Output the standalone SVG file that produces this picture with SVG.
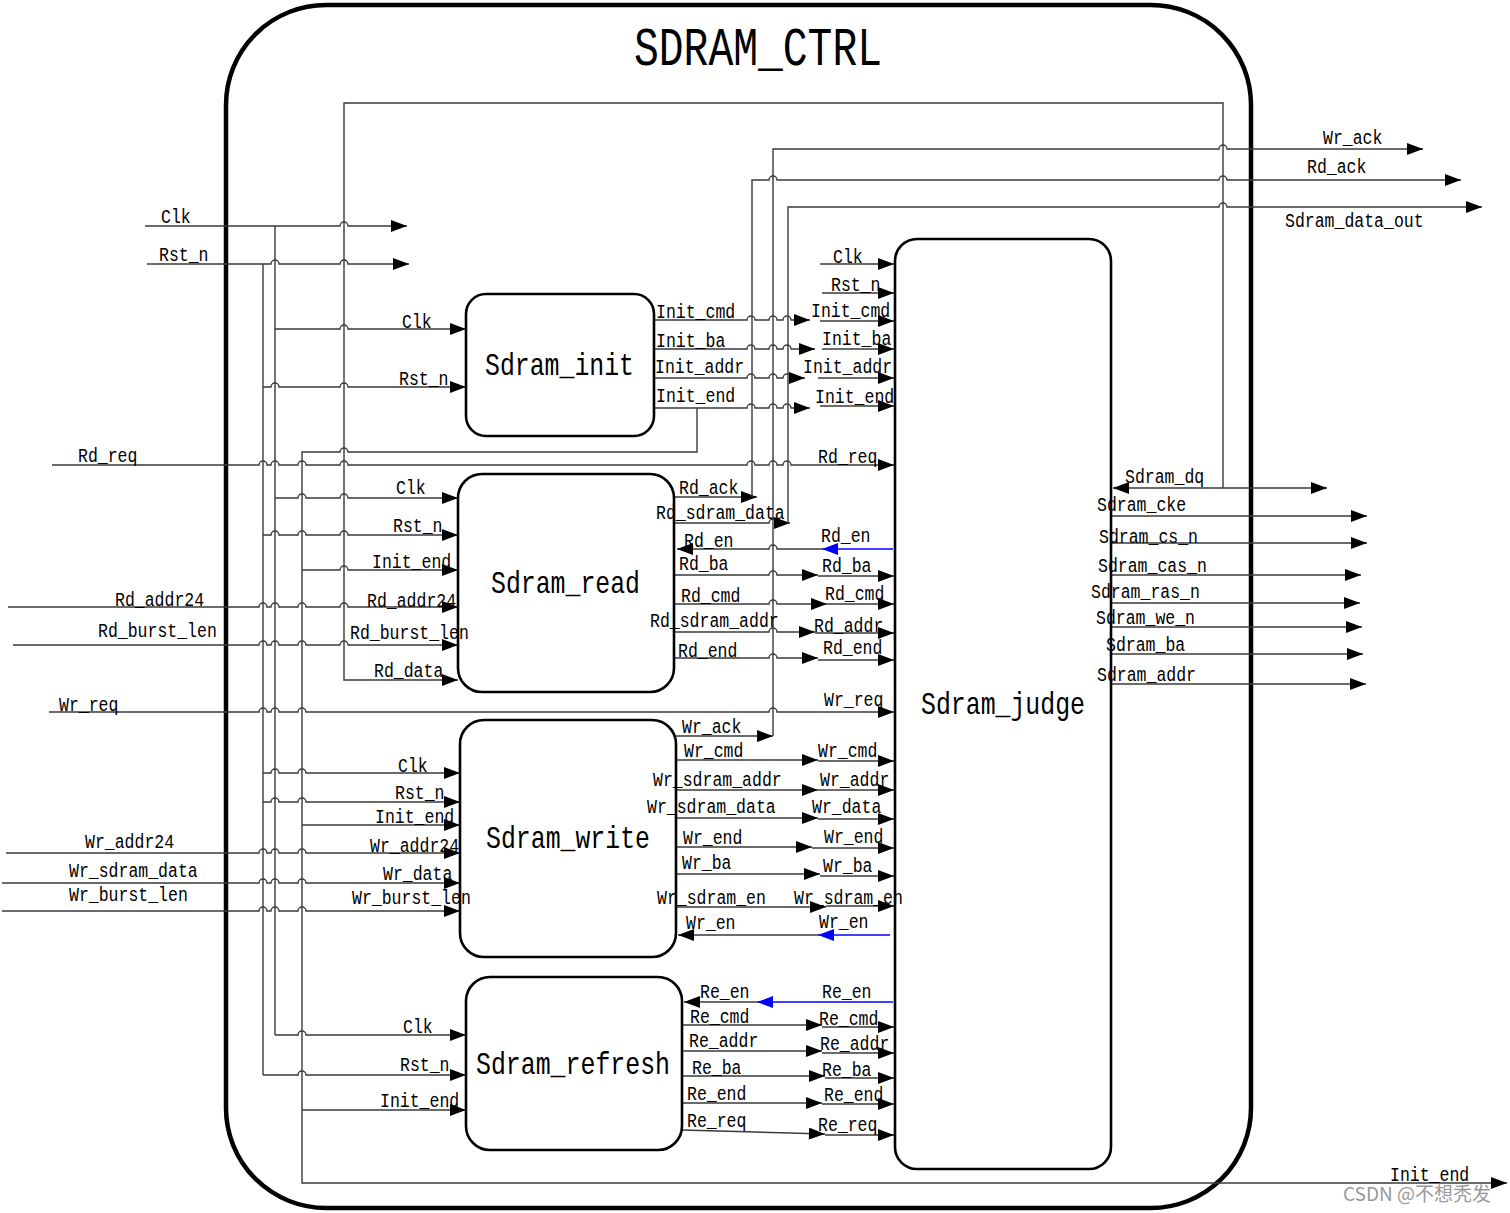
<svg xmlns="http://www.w3.org/2000/svg" width="1510" height="1213" viewBox="0 0 1510 1213">
<defs>
<marker id="ah" markerUnits="userSpaceOnUse" markerWidth="17" markerHeight="12" refX="16" refY="6" orient="auto-start-reverse" viewBox="0 0 16 12"><path d="M0,0L16,6L0,12z" fill="#000"/></marker>
<marker id="ahb" markerUnits="userSpaceOnUse" markerWidth="17" markerHeight="12" refX="16" refY="6" orient="auto" viewBox="0 0 16 12"><path d="M0,0L16,6L0,12z" fill="#0000ff"/></marker>
</defs>
<style>
.w{fill:none;stroke:#3a3a3a;stroke-width:1.4}
.a{marker-end:url(#ah)}
.b{fill:none;stroke:#0000ff;stroke-width:1.4;marker-end:url(#ahb)}
.blk{fill:#fff;stroke:#000;stroke-width:2.6}
.lb{font-family:"Liberation Mono",monospace;font-size:20px;fill:#000}
.nm{font-family:"Liberation Mono",monospace;font-size:32px;fill:#000}
.tt{font-family:"Liberation Mono",monospace;font-size:54px;fill:#000}
.wm{font-family:"Noto Sans CJK SC","Noto Sans",sans-serif;font-size:19px;fill:#999}
</style>
<rect width="1510" height="1213" fill="#fff"/>
<g id="sdram_ctrl">
<rect x="226" y="5" width="1025" height="1203" rx="100" fill="none" stroke="#000" stroke-width="4.5"/>
<text class="tt" x="634" y="65" textLength="248" lengthAdjust="spacingAndGlyphs">SDRAM_CTRL</text>
</g>
<g id="connectors">
<path class="w a" d="M145 226H340a4 4 0 0 1 8 0H407"/>
<path class="w a" d="M147 264H271a4 4 0 0 1 8 0H340a4 4 0 0 1 8 0H409"/>
<path class="w" d="M275 226V1035"/>
<path class="w" d="M263 264V1075"/>
<path class="w a" d="M275 329H340a4 4 0 0 1 8 0H466"/>
<path class="w a" d="M263 387H271a4 4 0 0 1 8 0H340a4 4 0 0 1 8 0H466"/>
<path class="w a" d="M697 408V452H348a4 4 0 0 0 -8 0H302V1183H1507"/>
<path class="w a" d="M52 465H259a4 4 0 0 1 8 0H271a4 4 0 0 1 8 0H298a4 4 0 0 1 8 0H340a4 4 0 0 1 8 0H747a4 4 0 0 1 8 0H769a4 4 0 0 1 8 0H783a4 4 0 0 1 8 0H894"/>
<path class="w a" d="M275 498H298a4 4 0 0 1 8 0H340a4 4 0 0 1 8 0H458"/>
<path class="w a" d="M263 535H271a4 4 0 0 1 8 0H298a4 4 0 0 1 8 0H340a4 4 0 0 1 8 0H458"/>
<path class="w a" d="M302 570H340a4 4 0 0 1 8 0H458"/>
<path class="w a" d="M8 607H259a4 4 0 0 1 8 0H271a4 4 0 0 1 8 0H298a4 4 0 0 1 8 0H340a4 4 0 0 1 8 0H458"/>
<path class="w a" d="M13 645H259a4 4 0 0 1 8 0H271a4 4 0 0 1 8 0H298a4 4 0 0 1 8 0H340a4 4 0 0 1 8 0H458"/>
<path class="w a" d="M1223 488V103H344V680H458"/>
<path class="w a" d="M49 712H259a4 4 0 0 1 8 0H271a4 4 0 0 1 8 0H298a4 4 0 0 1 8 0H769a4 4 0 0 1 8 0H894"/>
<path class="w a" d="M263 773H271a4 4 0 0 1 8 0H298a4 4 0 0 1 8 0H460"/>
<path class="w a" d="M263 802H271a4 4 0 0 1 8 0H298a4 4 0 0 1 8 0H460"/>
<path class="w a" d="M302 825H460"/>
<path class="w a" d="M6 853H259a4 4 0 0 1 8 0H271a4 4 0 0 1 8 0H298a4 4 0 0 1 8 0H460"/>
<path class="w a" d="M2 883H259a4 4 0 0 1 8 0H271a4 4 0 0 1 8 0H298a4 4 0 0 1 8 0H460"/>
<path class="w a" d="M2 911H259a4 4 0 0 1 8 0H271a4 4 0 0 1 8 0H298a4 4 0 0 1 8 0H460"/>
<path class="w a" d="M275 1035H298a4 4 0 0 1 8 0H466"/>
<path class="w a" d="M263 1075H298a4 4 0 0 1 8 0H466"/>
<path class="w a" d="M302 1110H466"/>
<path class="w a" d="M654 320H747a4 4 0 0 1 8 0H769a4 4 0 0 1 8 0H783a4 4 0 0 1 8 0H810"/>
<path class="w a" d="M654 349H747a4 4 0 0 1 8 0H769a4 4 0 0 1 8 0H783a4 4 0 0 1 8 0H815"/>
<path class="w a" d="M654 378H747a4 4 0 0 1 8 0H769a4 4 0 0 1 8 0H783a4 4 0 0 1 8 0H805"/>
<path class="w a" d="M654 408H747a4 4 0 0 1 8 0H769a4 4 0 0 1 8 0H783a4 4 0 0 1 8 0H810"/>
<path class="w a" d="M820 264H894"/>
<path class="w a" d="M822 293H894"/>
<path class="w a" d="M820 321H894"/>
<path class="w a" d="M822 349H894"/>
<path class="w a" d="M818 378H894"/>
<path class="w a" d="M820 406H894"/>
<path class="w a" d="M674 497H757"/>
<path class="w a" d="M752 497V180H769a4 4 0 0 1 8 0H1219a4 4 0 0 1 8 0H1461"/>
<path class="w a" d="M674 523H769a4 4 0 0 1 8 0H790"/>
<path class="w a" d="M788 523V207H1219a4 4 0 0 1 8 0H1482"/>
<path class="b" d="M893 549H822"/>
<path class="w a" d="M822 549H777a4 4 0 0 0 -8 0H677"/>
<path class="w a" d="M674 575H769a4 4 0 0 1 8 0H818"/>
<path class="w a" d="M818 576H894"/>
<path class="w a" d="M674 604H769a4 4 0 0 1 8 0H827"/>
<path class="w a" d="M827 604H894"/>
<path class="w a" d="M674 632H769a4 4 0 0 1 8 0H815"/>
<path class="w a" d="M815 633H894"/>
<path class="w a" d="M674 658H769a4 4 0 0 1 8 0H818"/>
<path class="w a" d="M818 660H894"/>
<path class="w a" d="M676 736H773"/>
<path class="w a" d="M773 736V149H1219a4 4 0 0 1 8 0H1423"/>
<path class="w a" d="M676 760H818"/>
<path class="w a" d="M818 761H894"/>
<path class="w a" d="M676 790H818"/>
<path class="w a" d="M818 790H894"/>
<path class="w a" d="M676 818H818"/>
<path class="w a" d="M818 819H894"/>
<path class="w a" d="M676 847H812"/>
<path class="w a" d="M812 848H894"/>
<path class="w a" d="M676 874H820"/>
<path class="w a" d="M820 876H894"/>
<path class="w a" d="M676 907H826"/>
<path class="w a" d="M826 906H894"/>
<path class="b" d="M890 935H818"/>
<path class="w a" d="M818 935H678"/>
<path class="b" d="M893 1002H757"/>
<path class="w a" d="M757 1002H684"/>
<path class="w a" d="M682 1025H822"/>
<path class="w a" d="M822 1027H894"/>
<path class="w a" d="M682 1051H822"/>
<path class="w a" d="M822 1053H894"/>
<path class="w a" d="M682 1076H825"/>
<path class="w a" d="M825 1078H894"/>
<path class="w a" d="M682 1103H822"/>
<path class="w a" d="M822 1104H894"/>
<path class="w a" d="M682 1130L825 1134"/>
<path class="w a" d="M825 1135H894"/>
<path class="w a" d="M1113 488H1327" marker-start="url(#ah)"/>
<path class="w a" d="M1111 516H1367"/>
<path class="w a" d="M1111 543H1367"/>
<path class="w a" d="M1111 575H1361"/>
<path class="w a" d="M1111 603H1360"/>
<path class="w a" d="M1111 627H1362"/>
<path class="w a" d="M1111 654H1363"/>
<path class="w a" d="M1111 684H1366"/>
</g>
<g id="sdram_init">
<rect class="blk" x="466" y="294" width="188" height="142" rx="20"/>
<text class="nm" x="485" y="375" textLength="149" lengthAdjust="spacingAndGlyphs">Sdram_init</text>
</g>
<g id="sdram_read">
<rect class="blk" x="458" y="474" width="216" height="218" rx="24"/>
<text class="nm" x="491" y="593" textLength="149" lengthAdjust="spacingAndGlyphs">Sdram_read</text>
</g>
<g id="sdram_write">
<rect class="blk" x="460" y="720" width="216" height="237" rx="24"/>
<text class="nm" x="486" y="848" textLength="164" lengthAdjust="spacingAndGlyphs">Sdram_write</text>
</g>
<g id="sdram_refresh">
<rect class="blk" x="466" y="977" width="216" height="173" rx="24"/>
<text class="nm" x="476" y="1074" textLength="194" lengthAdjust="spacingAndGlyphs">Sdram_refresh</text>
</g>
<g id="sdram_judge">
<rect class="blk" x="895" y="239" width="216" height="930" rx="22"/>
<text class="nm" x="921" y="714" textLength="164" lengthAdjust="spacingAndGlyphs">Sdram_judge</text>
</g>
<g id="labels" class="lb" lengthAdjust="spacingAndGlyphs">
<text x="161" y="223" textLength="29.7" lengthAdjust="spacingAndGlyphs">Clk</text>
<text x="159" y="261" textLength="49.5" lengthAdjust="spacingAndGlyphs">Rst_n</text>
<text x="402" y="328" textLength="29.7" lengthAdjust="spacingAndGlyphs">Clk</text>
<text x="399" y="385" textLength="49.5" lengthAdjust="spacingAndGlyphs">Rst_n</text>
<text x="78" y="462" textLength="59.4" lengthAdjust="spacingAndGlyphs">Rd_req</text>
<text x="396" y="494" textLength="29.7" lengthAdjust="spacingAndGlyphs">Clk</text>
<text x="393" y="532" textLength="49.5" lengthAdjust="spacingAndGlyphs">Rst_n</text>
<text x="372" y="568" textLength="79.2" lengthAdjust="spacingAndGlyphs">Init_end</text>
<text x="115" y="606" textLength="89.1" lengthAdjust="spacingAndGlyphs">Rd_addr24</text>
<text x="367" y="607" textLength="89.1" lengthAdjust="spacingAndGlyphs">Rd_addr24</text>
<text x="98" y="637" textLength="118.8" lengthAdjust="spacingAndGlyphs">Rd_burst_len</text>
<text x="350" y="639" textLength="118.8" lengthAdjust="spacingAndGlyphs">Rd_burst_len</text>
<text x="374" y="677" textLength="69.3" lengthAdjust="spacingAndGlyphs">Rd_data</text>
<text x="59" y="711" textLength="59.4" lengthAdjust="spacingAndGlyphs">Wr_req</text>
<text x="398" y="772" textLength="29.7" lengthAdjust="spacingAndGlyphs">Clk</text>
<text x="395" y="799" textLength="49.5" lengthAdjust="spacingAndGlyphs">Rst_n</text>
<text x="375" y="823" textLength="79.2" lengthAdjust="spacingAndGlyphs">Init_end</text>
<text x="85" y="848" textLength="89.1" lengthAdjust="spacingAndGlyphs">Wr_addr24</text>
<text x="370" y="852" textLength="89.1" lengthAdjust="spacingAndGlyphs">Wr_addr24</text>
<text x="69" y="877" textLength="128.7" lengthAdjust="spacingAndGlyphs">Wr_sdram_data</text>
<text x="383" y="880" textLength="69.3" lengthAdjust="spacingAndGlyphs">Wr_data</text>
<text x="69" y="901" textLength="118.8" lengthAdjust="spacingAndGlyphs">Wr_burst_len</text>
<text x="352" y="904" textLength="118.8" lengthAdjust="spacingAndGlyphs">Wr_burst_len</text>
<text x="403" y="1033" textLength="29.7" lengthAdjust="spacingAndGlyphs">Clk</text>
<text x="400" y="1071" textLength="49.5" lengthAdjust="spacingAndGlyphs">Rst_n</text>
<text x="380" y="1107" textLength="79.2" lengthAdjust="spacingAndGlyphs">Init_end</text>
<text x="656" y="318" textLength="79.2" lengthAdjust="spacingAndGlyphs">Init_cmd</text>
<text x="656" y="347" textLength="69.3" lengthAdjust="spacingAndGlyphs">Init_ba</text>
<text x="655" y="373" textLength="89.1" lengthAdjust="spacingAndGlyphs">Init_addr</text>
<text x="656" y="402" textLength="79.2" lengthAdjust="spacingAndGlyphs">Init_end</text>
<text x="833" y="263" textLength="29.7" lengthAdjust="spacingAndGlyphs">Clk</text>
<text x="831" y="291" textLength="49.5" lengthAdjust="spacingAndGlyphs">Rst_n</text>
<text x="811" y="317" textLength="79.2" lengthAdjust="spacingAndGlyphs">Init_cmd</text>
<text x="822" y="345" textLength="69.3" lengthAdjust="spacingAndGlyphs">Init_ba</text>
<text x="803" y="373" textLength="89.1" lengthAdjust="spacingAndGlyphs">Init_addr</text>
<text x="815" y="403" textLength="79.2" lengthAdjust="spacingAndGlyphs">Init_end</text>
<text x="818" y="463" textLength="59.4" lengthAdjust="spacingAndGlyphs">Rd_req</text>
<text x="679" y="494" textLength="59.4" lengthAdjust="spacingAndGlyphs">Rd_ack</text>
<text x="656" y="519" textLength="128.7" lengthAdjust="spacingAndGlyphs">Rd_sdram_data</text>
<text x="684" y="547" textLength="49.5" lengthAdjust="spacingAndGlyphs">Rd_en</text>
<text x="821" y="542" textLength="49.5" lengthAdjust="spacingAndGlyphs">Rd_en</text>
<text x="679" y="570" textLength="49.5" lengthAdjust="spacingAndGlyphs">Rd_ba</text>
<text x="822" y="572" textLength="49.5" lengthAdjust="spacingAndGlyphs">Rd_ba</text>
<text x="681" y="602" textLength="59.4" lengthAdjust="spacingAndGlyphs">Rd_cmd</text>
<text x="825" y="600" textLength="59.4" lengthAdjust="spacingAndGlyphs">Rd_cmd</text>
<text x="650" y="627" textLength="128.7" lengthAdjust="spacingAndGlyphs">Rd_sdram_addr</text>
<text x="814" y="632" textLength="69.3" lengthAdjust="spacingAndGlyphs">Rd_addr</text>
<text x="678" y="657" textLength="59.4" lengthAdjust="spacingAndGlyphs">Rd_end</text>
<text x="823" y="654" textLength="59.4" lengthAdjust="spacingAndGlyphs">Rd_end</text>
<text x="824" y="706" textLength="59.4" lengthAdjust="spacingAndGlyphs">Wr_req</text>
<text x="682" y="733" textLength="59.4" lengthAdjust="spacingAndGlyphs">Wr_ack</text>
<text x="684" y="757" textLength="59.4" lengthAdjust="spacingAndGlyphs">Wr_cmd</text>
<text x="818" y="757" textLength="59.4" lengthAdjust="spacingAndGlyphs">Wr_cmd</text>
<text x="653" y="786" textLength="128.7" lengthAdjust="spacingAndGlyphs">Wr_sdram_addr</text>
<text x="820" y="786" textLength="69.3" lengthAdjust="spacingAndGlyphs">Wr_addr</text>
<text x="647" y="813" textLength="128.7" lengthAdjust="spacingAndGlyphs">Wr_sdram_data</text>
<text x="812" y="813" textLength="69.3" lengthAdjust="spacingAndGlyphs">Wr_data</text>
<text x="683" y="844" textLength="59.4" lengthAdjust="spacingAndGlyphs">Wr_end</text>
<text x="824" y="843" textLength="59.4" lengthAdjust="spacingAndGlyphs">Wr_end</text>
<text x="682" y="869" textLength="49.5" lengthAdjust="spacingAndGlyphs">Wr_ba</text>
<text x="823" y="872" textLength="49.5" lengthAdjust="spacingAndGlyphs">Wr_ba</text>
<text x="657" y="904" textLength="108.9" lengthAdjust="spacingAndGlyphs">Wr_sdram_en</text>
<text x="794" y="904" textLength="108.9" lengthAdjust="spacingAndGlyphs">Wr_sdram_en</text>
<text x="686" y="929" textLength="49.5" lengthAdjust="spacingAndGlyphs">Wr_en</text>
<text x="819" y="928" textLength="49.5" lengthAdjust="spacingAndGlyphs">Wr_en</text>
<text x="700" y="998" textLength="49.5" lengthAdjust="spacingAndGlyphs">Re_en</text>
<text x="822" y="998" textLength="49.5" lengthAdjust="spacingAndGlyphs">Re_en</text>
<text x="690" y="1023" textLength="59.4" lengthAdjust="spacingAndGlyphs">Re_cmd</text>
<text x="819" y="1025" textLength="59.4" lengthAdjust="spacingAndGlyphs">Re_cmd</text>
<text x="689" y="1047" textLength="69.3" lengthAdjust="spacingAndGlyphs">Re_addr</text>
<text x="820" y="1050" textLength="69.3" lengthAdjust="spacingAndGlyphs">Re_addr</text>
<text x="692" y="1074" textLength="49.5" lengthAdjust="spacingAndGlyphs">Re_ba</text>
<text x="822" y="1076" textLength="49.5" lengthAdjust="spacingAndGlyphs">Re_ba</text>
<text x="687" y="1100" textLength="59.4" lengthAdjust="spacingAndGlyphs">Re_end</text>
<text x="824" y="1101" textLength="59.4" lengthAdjust="spacingAndGlyphs">Re_end</text>
<text x="687" y="1127" textLength="59.4" lengthAdjust="spacingAndGlyphs">Re_req</text>
<text x="818" y="1131" textLength="59.4" lengthAdjust="spacingAndGlyphs">Re_req</text>
<text x="1125" y="483" textLength="79.2" lengthAdjust="spacingAndGlyphs">Sdram_dq</text>
<text x="1097" y="511" textLength="89.1" lengthAdjust="spacingAndGlyphs">Sdram_cke</text>
<text x="1099" y="543" textLength="99" lengthAdjust="spacingAndGlyphs">Sdram_cs_n</text>
<text x="1098" y="572" textLength="108.9" lengthAdjust="spacingAndGlyphs">Sdram_cas_n</text>
<text x="1091" y="598" textLength="108.9" lengthAdjust="spacingAndGlyphs">Sdram_ras_n</text>
<text x="1096" y="624" textLength="99" lengthAdjust="spacingAndGlyphs">Sdram_we_n</text>
<text x="1106" y="651" textLength="79.2" lengthAdjust="spacingAndGlyphs">Sdram_ba</text>
<text x="1097" y="681" textLength="99" lengthAdjust="spacingAndGlyphs">Sdram_addr</text>
<text x="1323" y="144" textLength="59.4" lengthAdjust="spacingAndGlyphs">Wr_ack</text>
<text x="1307" y="173" textLength="59.4" lengthAdjust="spacingAndGlyphs">Rd_ack</text>
<text x="1285" y="227" textLength="138.6" lengthAdjust="spacingAndGlyphs">Sdram_data_out</text>
<text x="1390" y="1181" textLength="79.2" lengthAdjust="spacingAndGlyphs">Init_end</text>
</g>
<text class="wm" x="1343" y="1201">CSDN @不想秃发</text>
</svg>
